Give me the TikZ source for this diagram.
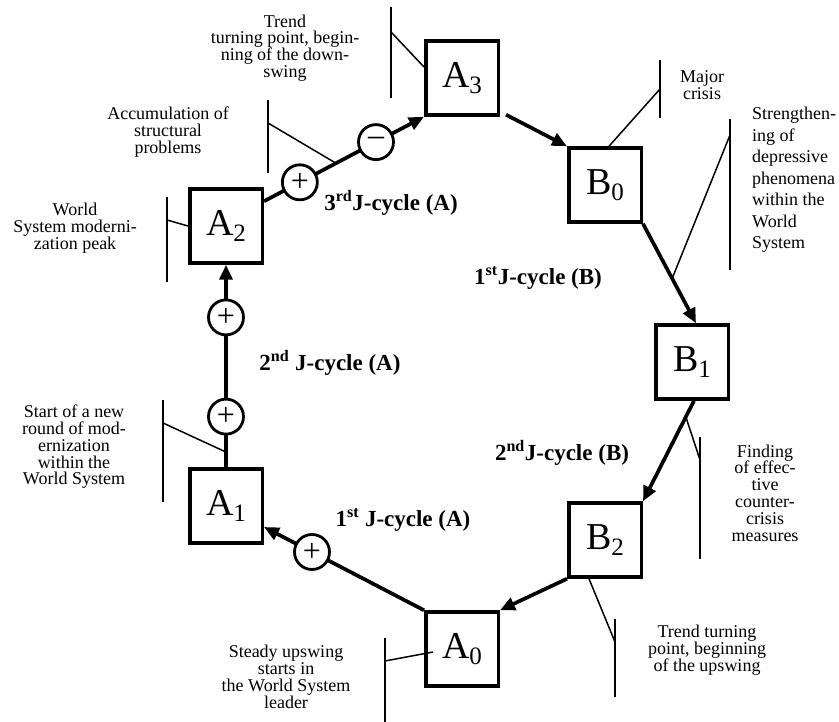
\documentclass[tikz,border=0pt]{standalone}
\usepackage{fontspec}
\setmainfont{Liberation Serif}
\usetikzlibrary{arrows.meta,calc}
\newcommand\mysub[1]{\raisebox{-6pt}{\fontsize{25}{25}\selectfont #1}}
\begin{document}
\begin{tikzpicture}[x=1pt,y=-1pt,
  box/.style={draw,line width=3.5pt,minimum width=72.5pt,minimum height=74pt,inner sep=0pt,font=\fontsize{38}{38}\selectfont},
  flow/.style={line width=3.7pt,-{Triangle[length=15pt,width=13pt]}},
  sign/.style={circle,draw,fill=white,line width=2.8pt,minimum size=35pt,inner sep=0pt,font=\fontsize{32}{32}\selectfont},
  note/.style={font=\fontsize{18}{16.8}\selectfont,align=center,inner sep=0pt},
  cyc/.style={font=\fontsize{23}{23}\selectfont\bfseries,inner sep=0pt},
  call/.style={line width=1.5pt}]
\useasboundingbox (0,0) rectangle (839,722);
% boxes
\node[box] (A3) at (462,78) {A\mysub{3}};
\node[box] (B0) at (605,185) {B\mysub{0}};
\node[box] (B1) at (692,362) {B\mysub{1}};
\node[box] (B2) at (605,540) {B\mysub{2}};
\node[box] (A0) at (462,649) {A\mysub{0}};
\node[box] (A1) at (226,506) {A\mysub{1}};
\node[box] (A2) at (226,226) {A\mysub{2}};
% flows
\draw[flow] (A0.north west) -- node[sign,pos=0.70] (s1) {+} ($(A1.east)+(0,21)$);
\draw[flow] (A1.north) -- coordinate[pos=0.075] (cStart) node[sign,pos=0.25] (s2) {+} node[sign,pos=0.74] (s3) {+} (A2.south);
\draw[flow] ($(A2.north east)+(0,14)$) -- node[sign,pos=0.224] (s4) {+} coordinate[pos=0.45] (cAcc) node[sign,pos=0.70] (s5) {\raisebox{2pt}{–}} (A3.south west);
\draw[flow] ($(A3.south east)+(6,-2)$) -- (B0.north west);
\draw[flow] (B0.south east) -- coordinate[pos=0.55] (cStr) ($(B1.north)+(4,0)$);
\draw[flow] ($(B1.south)+(2,0)$) -- coordinate[pos=0.16] (cFind) (B2.north east);
\draw[flow] (B2.south west) -- (A0.north east);
% cycle labels
\node[cyc] (l3A) at (391,203) {3\textsuperscript{rd}J-cycle (A)};
\node[cyc] (l1B) at (538,278) {1\textsuperscript{st}J-cycle (B)};
\node[cyc] (l2A) at (330,363) {2\textsuperscript{nd} J-cycle (A)};
\node[cyc] (l2B) at (562,453) {2\textsuperscript{nd}J-cycle (B)};
\node[cyc] (l1A) at (403,520) {1\textsuperscript{st} J-cycle (A)};
% annotations
\node[note] (nTop) at (285,48) {Trend\\turning point, begin-\\ning of the down-\\swing};
\coordinate (bTop1) at (391,7); \coordinate (bTop2) at (391,98); \coordinate (bTopK) at (391,32);
\draw[call] (bTop1) -- (bTop2);
\draw[call] (bTopK) -- ($(A3.west)+(0,-11)$);

\node[note] (nAcc) at (168,132) {Accumulation of\\structural\\problems};
\coordinate (bAcc1) at (268,100); \coordinate (bAcc2) at (268,173); \coordinate (bAccK) at (268,123);
\draw[call] (bAcc1) -- (bAcc2);
\draw[call] (bAccK) -- (cAcc);

\node[note] (nPeak) at (75,228) {World\\System moderni-\\zation peak};
\coordinate (bPeak1) at (167,197); \coordinate (bPeak2) at (167,282); \coordinate (bPeakK) at (167,220);
\draw[call] (bPeak1) -- (bPeak2);
\draw[call] (bPeakK) -- (A2.west);

\node[note] (nMaj) at (702,85) {Major\\crisis};
\coordinate (bMaj1) at (660,60); \coordinate (bMaj2) at (660,118); \coordinate (bMajK) at (660,89);
\draw[call] (bMaj1) -- (bMaj2);
\draw[call] (bMajK) -- ($(B0.north)+(4,0)$);

\node[note,align=left,anchor=west,font=\fontsize{18}{21.5}\selectfont] (nStr) at (752,180) {Strengthen-\\ing of\\depressive\\phenomena\\within the\\World\\System};
\coordinate (bStr1) at (730,119); \coordinate (bStr2) at (730,270); \coordinate (bStrK) at (730,135);
\draw[call] (bStr1) -- (bStr2);
\draw[call] (bStrK) -- (cStr);

\node[note] (nNew) at (74,447) {Start of a new\\round of mod-\\ernization\\within the\\World System};
\coordinate (bNew1) at (163,400); \coordinate (bNew2) at (163,502); \coordinate (bNewK) at (163,423);
\draw[call] (bNew1) -- (bNew2);
\draw[call] (bNewK) -- (cStart);

\node[note] (nFind) at (765,493) {Finding\\of effec-\\tive\\counter-\\crisis\\measures};
\coordinate (bFind1) at (700,437); \coordinate (bFind2) at (700,559); \coordinate (bFindK) at (700,460);
\draw[call] (bFind1) -- (bFind2);
\draw[call] (bFindK) -- (cFind);

\node[note] (nUp) at (707,650) {Trend turning\\point, beginning\\of the upswing};
\coordinate (bUp1) at (615,619); \coordinate (bUp2) at (615,697); \coordinate (bUpK) at (615,642);
\draw[call] (bUp1) -- (bUp2);
\draw[call] (bUpK) -- ($(B2.south)+(-16,0)$);

\node[note] (nSt) at (286,677) {Steady upswing\\starts in\\the World System\\leader};
\coordinate (bSt1) at (385,638); \coordinate (bSt2) at (385,722); \coordinate (bStK) at (385,661);
\draw[call] (bSt1) -- (bSt2);
\draw[call] (bStK) -- ($(A0.west)+(9,3)$);
\end{tikzpicture}
\end{document}
